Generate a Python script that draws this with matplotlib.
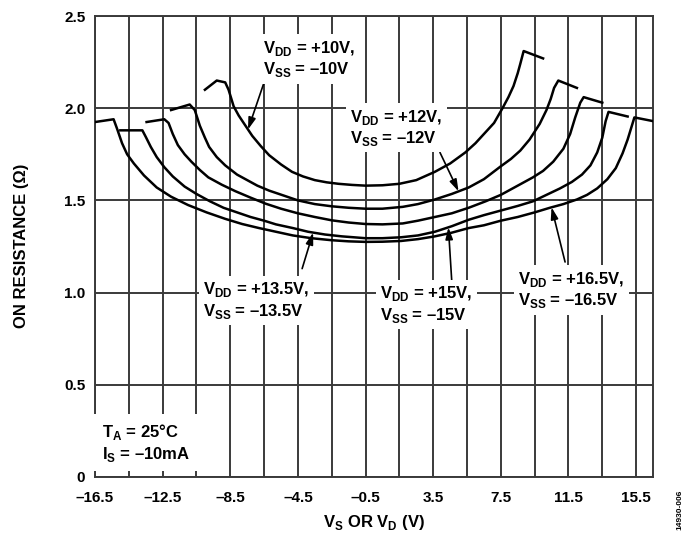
import numpy as np
import matplotlib
matplotlib.use("Agg")
import matplotlib.pyplot as plt

plt.rcParams['font.family'] = ['Liberation Sans', 'DejaVu Sans']
plt.rcParams['font.weight'] = 'bold'
plt.rcParams['mathtext.fontset'] = 'custom'
plt.rcParams['mathtext.rm'] = 'Liberation Sans:bold'
plt.rcParams['mathtext.bf'] = 'Liberation Sans:bold'

# on resistance (ohm) vs Vs/Vd (V)
v10 = [-10.0, -9.3, -8.8, -8.6, -8.3, -8.0, -7.6, -7.2, -6.7, -6.2, -5.5, -4.85, -4.2, -3.5,
       -2.8, -2.1, -1.3, -0.5, 0.5, 1.5, 2.5, 3.6, 4.5, 5.4, 6.0, 6.5, 7.1, 7.6, 7.95, 8.25,
       8.5, 8.65, 8.85, 10.0]
r10 = [2.10, 2.15, 2.14, 2.10, 2.01, 1.96, 1.905, 1.85, 1.795, 1.745, 1.695, 1.655, 1.63, 1.61,
       1.598, 1.59, 1.584, 1.58, 1.582, 1.59, 1.61, 1.655, 1.70, 1.76, 1.81, 1.86, 1.92, 2.0,
       2.06, 2.12, 2.19, 2.24, 2.31, 2.27]

v12 = [-12.0, -10.9, -10.6, -10.3, -10.0, -9.75, -9.3, -8.8, -8.1, -7.6, -6.9, -6.2, -5.3, -4.5,
       -3.5, -2.5, -1.5, -0.5, 0.5, 1.7, 2.6, 3.6, 4.6, 5.6, 6.5, 7.5, 8.1, 8.65, 9.2, 9.8, 10.2,
       10.45, 10.65, 10.9, 12.0]
r12 = [1.99, 2.02, 1.99, 1.905, 1.84, 1.79, 1.735, 1.69, 1.64, 1.615, 1.58, 1.553, 1.525, 1.50,
       1.48, 1.468, 1.46, 1.455, 1.455, 1.465, 1.48, 1.505, 1.535, 1.57, 1.615, 1.685, 1.725,
       1.77, 1.83, 1.915, 1.99, 2.05, 2.11, 2.15, 2.11]

v135 = [-13.45, -12.4, -12.15, -11.9, -11.6, -11.2, -10.8, -10.3, -9.8, -9.0, -8.2, -7.3, -6.4,
        -5.5, -4.5, -3.5, -2.5, -1.5, -0.5, 0.5, 1.7, 2.6, 3.6, 4.6, 5.6, 6.6, 7.5, 8.5, 9.4,
        10.0, 10.6, 11.2, 11.6, 11.9, 12.2, 12.4, 13.5]
r135 = [1.925, 1.94, 1.92, 1.86, 1.80, 1.75, 1.71, 1.665, 1.625, 1.585, 1.55, 1.515, 1.482,
        1.455, 1.43, 1.41, 1.392, 1.38, 1.372, 1.37, 1.375, 1.39, 1.41, 1.43, 1.46, 1.495, 1.53,
        1.58, 1.625, 1.66, 1.71, 1.78, 1.86, 1.95, 2.03, 2.06, 2.03]

v15 = [-15.0, -13.7, -13.5, -13.2, -12.85, -12.4, -11.9, -11.2, -10.5, -9.7, -8.9, -8.1, -7.3,
       -6.5, -5.8, -4.8, -3.9, -2.9, -1.9, -0.5, 0.5, 1.6, 2.6, 3.6, 4.6, 5.6, 6.5, 7.5, 8.5, 9.4,
       10.2, 11.0, 11.7, 12.3, 12.8, 13.2, 13.5, 13.7, 13.87, 15.0]
r15 = [1.88, 1.88, 1.845, 1.79, 1.735, 1.68, 1.63, 1.575, 1.535, 1.495, 1.46, 1.435, 1.41,
       1.39, 1.37, 1.35, 1.33, 1.315, 1.305, 1.295, 1.295, 1.30, 1.31, 1.33, 1.36, 1.395, 1.42,
       1.445, 1.47, 1.495, 1.53, 1.565, 1.60, 1.64, 1.69, 1.76, 1.84, 1.93, 1.98, 1.955]

v165 = [-16.5, -15.4, -15.2, -14.9, -14.6, -14.2, -13.6, -12.85, -12.0, -11.0, -9.9, -8.8, -7.8,
        -6.8, -5.8, -4.8, -3.7, -2.5, -1.5, -0.5, 0.5, 1.6, 2.6, 3.6, 4.6, 5.6, 6.5, 7.5, 8.5,
        9.5, 10.4, 11.2, 12.0, 12.6, 13.2, 13.8, 14.3, 14.7, 15.0, 15.2, 15.4, 16.5]
r165 = [1.925, 1.94, 1.89, 1.81, 1.75, 1.70, 1.635, 1.57, 1.52, 1.475, 1.435, 1.40, 1.372,
        1.35, 1.33, 1.31, 1.295, 1.284, 1.278, 1.275, 1.276, 1.28, 1.29, 1.305, 1.325, 1.35,
        1.365, 1.39, 1.41, 1.435, 1.46, 1.48, 1.505, 1.53, 1.565, 1.615, 1.675, 1.755, 1.83,
        1.89, 1.95, 1.93]

xticks = [-16.5, -12.5, -8.5, -4.5, -0.5, 3.5, 7.5, 11.5, 15.5]
xtick_labels = ['–16.5', '–12.5', '–8.5', '–4.5', '–0.5', '3.5', '7.5', '11.5', '15.5']
yticks = [0, 0.5, 1.0, 1.5, 2.0, 2.5]
ytick_labels = ['0', '0.5', '1.0', '1.5', '2.0', '2.5']
xgrid = np.arange(-16.5, 16.0, 2.0)

fig = plt.figure(figsize=(6.88, 5.43), dpi=100)
ax = fig.add_axes([95 / 688, 66 / 543, 558 / 688, 461 / 543])

grid_kw = dict(color='#3a3a3a', lw=1.4, zorder=1)
for x in xgrid:
    ax.axvline(x, **grid_kw)
for y in yticks:
    ax.axhline(y, **grid_kw)

for v, r in [(v10, r10), (v12, r12), (v135, r135), (v15, r15), (v165, r165)]:
    ax.plot(v, r, color='black', lw=1.8, solid_joinstyle='round', zorder=3)

ax.set_xlim(-16.5, 16.5)
ax.set_ylim(0, 2.5)
ax.set_xticks(xticks)
ax.set_xticklabels(xtick_labels)
ax.set_yticks(yticks)
ax.set_yticklabels(ytick_labels)
ax.tick_params(length=0, labelsize=11)
ax.tick_params(axis='x', pad=10)
ax.tick_params(axis='y', pad=7)
for s in ax.spines.values():
    s.set_color('#3a3a3a')
    s.set_linewidth(1.4)

box = dict(facecolor='white', edgecolor='none', pad=3)
lab_kw = dict(fontsize=12, fontweight='bold', ha='left', va='center', multialignment='left',
              bbox=box, zorder=5)
arrow = dict(arrowstyle='-|>,head_length=0.7,head_width=0.22', color='black', lw=1.2,
             shrinkA=0, shrinkB=0)

labels = [
    ('V$_\\mathrm{DD}$ = +10V,\nV$_\\mathrm{SS}$ = –10V', (-6.56, 2.267), (-6.5, 2.14), -7.45, v10, r10),
    ('V$_\\mathrm{DD}$ = +12V,\nV$_\\mathrm{SS}$ = –12V', (-1.41, 1.893), (3.9, 1.76), 5.0, v12, r12),
    ('V$_\\mathrm{DD}$ = +13.5V,\nV$_\\mathrm{SS}$ = –13.5V', (-10.1, 0.955), (-4.25, 1.13), -3.6, v15, r15),
    ('V$_\\mathrm{DD}$ = +15V,\nV$_\\mathrm{SS}$ = –15V', (0.36, 0.935), (4.6, 1.06), 4.4, v15, r15),
    ('V$_\\mathrm{DD}$ = +16.5V,\nV$_\\mathrm{SS}$ = –16.5V', (8.53, 1.014), (11.3, 1.166), 10.5, v165, r165),
]
for text, pos, start, tip_x, v, r in labels:
    ax.text(pos[0], pos[1], text, **lab_kw)
    ax.annotate('', xy=(tip_x, np.interp(tip_x, v, r)), xytext=start, arrowprops=arrow, zorder=4)

ax.text(-16.1, 0.185, 'T$_\\mathrm{A}$ = 25°C\nI$_\\mathrm{S}$ = –10mA', fontsize=12, fontweight='bold',
        ha='left', va='center', zorder=5,
        bbox=dict(facecolor='white', edgecolor='none', boxstyle='square,pad=0.45'))

fig.text(374 / 688, 1 - 523 / 543, 'V$_\\mathrm{S}$ OR V$_\\mathrm{D}$ (V)', fontsize=12,
         fontweight='bold', ha='center', va='center')
fig.text(22 / 688, 1 - 246 / 543, 'ON RESISTANCE (Ω)', fontsize=12, fontweight='bold',
         rotation=90, ha='center', va='center')
fig.text(680 / 688, 1 - 510 / 543, '14930-006', fontsize=6, rotation=90, ha='center', va='center')

fig.savefig('out.png', dpi=100)
